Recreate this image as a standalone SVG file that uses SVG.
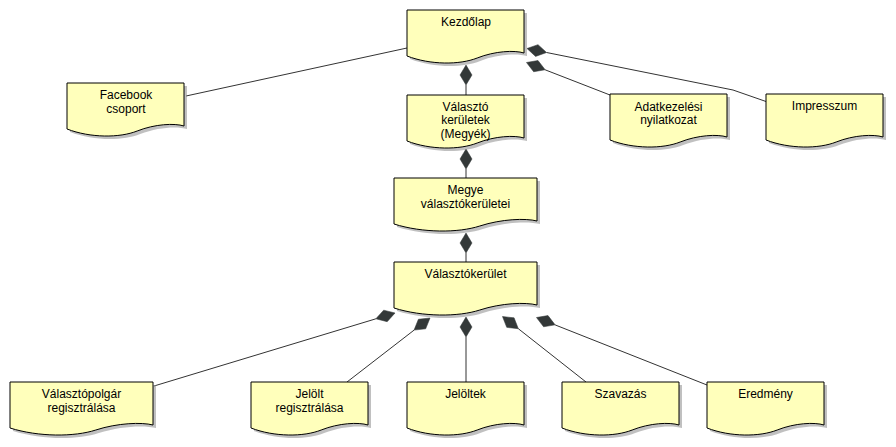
<svg xmlns="http://www.w3.org/2000/svg" width="896" height="447" viewBox="0 0 896 447">
<style>
.body{fill:#ffffbb;stroke:#000;stroke-width:1}
.shadow{fill:#8c8c8c;opacity:0.55}
.lbl{font-family:"Liberation Sans",Arial,sans-serif;font-size:12px;fill:#000;text-anchor:middle}
.conn{fill:none;stroke:#333;stroke-width:1}
.dia{fill:#333838;stroke:#333838;stroke-width:0.5}
</style>
<defs>
<path id="doc117" d="M0,0 H117 V43 C107.6,40 87.75,41 70.2,48 C52.65,55 23.4,55 0,46 Z"/>
<path id="doc143" d="M0,0 H143 V43 C131.6,40 107.25,41 85.8,48 C64.35,55 28.6,55 0,46 Z"/>
<path id="dia" d="M0,0 L10,-6 L20,0 L10,6 Z"/>
</defs>
<rect width="896" height="447" fill="#fff"/>
<g id="connectors">
<path class="conn" d="M186,96 L407,48"/>
<path class="conn" d="M466,85 V95"/>
<path class="conn" d="M545.1,69.8 L610,95"/>
<path class="conn" d="M546.6,52.5 L733,90 L766,101.5"/>
<path class="conn" d="M466,169 V178"/>
<path class="conn" d="M466,253 V262"/>
<path class="conn" d="M466,337 V382"/>
<path class="conn" d="M518.3,328.7 L586,382"/>
<path class="conn" d="M555.1,324.9 L707,385"/>
<path class="conn" d="M375.9,318.8 L154,386"/>
<path class="conn" d="M414.1,330.1 L347,382"/>
<use href="#dia" class="dia" transform="translate(466,65) rotate(90)"/>
<use href="#dia" class="dia" transform="translate(527,48.5) rotate(11.66)"/>
<use href="#dia" class="dia" transform="translate(526.5,62.5) rotate(21.27)"/>
<use href="#dia" class="dia" transform="translate(466,149) rotate(90)"/>
<use href="#dia" class="dia" transform="translate(466,233) rotate(90)"/>
<use href="#dia" class="dia" transform="translate(466,317) rotate(90)"/>
<use href="#dia" class="dia" transform="translate(502.5,316.5) rotate(37.7)"/>
<use href="#dia" class="dia" transform="translate(536.5,317.5) rotate(21.6)"/>
<use href="#dia" class="dia" transform="translate(395,313) rotate(163.08)"/>
<use href="#dia" class="dia" transform="translate(430,318) rotate(142.8)"/>
</g>
<g id="kezdolap" transform="translate(407,10)">
<use href="#doc117" class="shadow" x="3" y="3"/><use href="#doc117" class="body"/>
<text class="lbl" x="59" y="16">Kezdőlap</text>
</g>
<g id="facebook" transform="translate(67,83)">
<use href="#doc117" class="shadow" x="3" y="3"/><use href="#doc117" class="body"/>
<text class="lbl" x="59" y="16">Facebook</text><text class="lbl" x="59" y="29.5">csoport</text>
</g>
<g id="valaszto-keruletek" transform="translate(407,95)">
<use href="#doc117" class="shadow" x="3" y="3"/><use href="#doc117" class="body"/>
<text class="lbl" x="58.5" y="15.5">Választó</text><text class="lbl" x="58.5" y="29">kerületek</text><text class="lbl" x="58.5" y="42.5">(Megyék)</text>
</g>
<g id="adatkezelesi" transform="translate(610,94)">
<use href="#doc117" class="shadow" x="3" y="3"/><use href="#doc117" class="body"/>
<text class="lbl" x="58.5" y="16.5">Adatkezelési</text><text class="lbl" x="58.5" y="30">nyilatkozat</text>
</g>
<g id="impresszum" transform="translate(766,94)">
<use href="#doc117" class="shadow" x="3" y="3"/><use href="#doc117" class="body"/>
<text class="lbl" x="58.5" y="16">Impresszum</text>
</g>
<g id="megye" transform="translate(394,178)">
<use href="#doc143" class="shadow" x="3" y="3"/><use href="#doc143" class="body"/>
<text class="lbl" x="71.5" y="16">Megye</text><text class="lbl" x="71.5" y="29.5">választókerületei</text>
</g>
<g id="valasztokerulet" transform="translate(394,262)">
<use href="#doc143" class="shadow" x="3" y="3"/><use href="#doc143" class="body"/>
<text class="lbl" x="71.5" y="16">Választókerület</text>
</g>
<g id="valasztopolgar" transform="translate(10,382)">
<use href="#doc143" class="shadow" x="3" y="3"/><use href="#doc143" class="body"/>
<text class="lbl" x="71.5" y="16">Választópolgár</text><text class="lbl" x="71.5" y="29.5">regisztrálása</text>
</g>
<g id="jelolt-reg" transform="translate(251,382)">
<use href="#doc117" class="shadow" x="3" y="3"/><use href="#doc117" class="body"/>
<text class="lbl" x="58.5" y="16">Jelölt</text><text class="lbl" x="58.5" y="29.5">regisztrálása</text>
</g>
<g id="jeloltek" transform="translate(407,382)">
<use href="#doc117" class="shadow" x="3" y="3"/><use href="#doc117" class="body"/>
<text class="lbl" x="58.5" y="16">Jelöltek</text>
</g>
<g id="szavazas" transform="translate(562,382)">
<use href="#doc117" class="shadow" x="3" y="3"/><use href="#doc117" class="body"/>
<text class="lbl" x="58.5" y="16">Szavazás</text>
</g>
<g id="eredmeny" transform="translate(707,382)">
<use href="#doc117" class="shadow" x="3" y="3"/><use href="#doc117" class="body"/>
<text class="lbl" x="58.5" y="16">Eredmény</text>
</g>
</svg>
